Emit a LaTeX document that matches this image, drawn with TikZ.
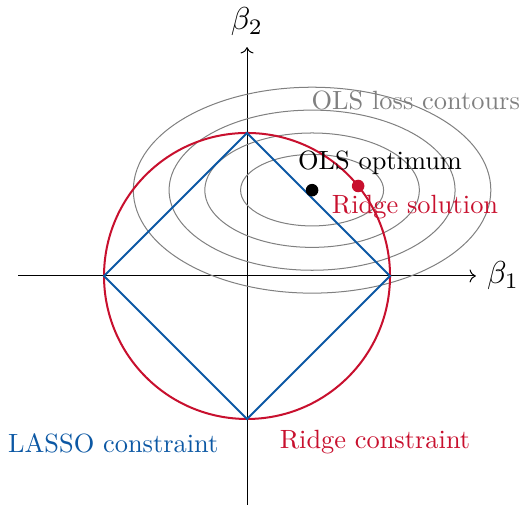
\documentclass[tikz,border=0pt]{standalone}
\usepackage{xcolor}
\usetikzlibrary{arrows.meta}
\definecolor{lassoblue}{RGB}{12,88,164}
\definecolor{ridgered}{RGB}{200,16,46}

\begin{document}
\begin{tikzpicture}[
    lbl/.style={scale=1.05},
    axlbl/.style={scale=1.26},
    axis/.style={->, black},
    contour/.style={gray, thin},
    lasso/.style={lassoblue, thick},
    ridge/.style={ridgered, thick},
    dot/.style={circle, fill, inner sep=0pt, minimum size=5pt}
]
\useasboundingbox (-3.455,-3.203) rectangle (3.874,3.86);

% Axes
\coordinate (O) at (0,0);
\draw[axis] (-3.2,0) -- (3.2,0) node[axlbl, right] (b1) {$\beta_1$};
\draw[axis] (0,-3.2) -- (0,3.2) node[axlbl, above] (b2) {$\beta_2$};

% OLS loss contours
\coordinate (ols) at (0.91,1.2);
\foreach \a/\b in {1/0.5, 1.5/0.8, 2/1.12, 2.5/1.44}
    \draw[contour] (ols) ellipse ({\a} and {\b});

% Constraint regions
\draw[ridge] (O) circle (2);
\draw[lasso] (2,0) -- (0,2) -- (-2,0) -- (0,-2) -- cycle;

% Points
\node[dot, black] (ols_pt) at (ols) {};
\node[dot, ridgered] (ridge_pt) at (39:2) {};

% Labels
\node[lbl, gray] (contour_lbl) at (2.36,2.45) {OLS loss contours};
\node[lbl] (ols_lbl) at (1.86,1.58) {OLS optimum};
\node[lbl, ridgered] (ridge_lbl) at (2.35,0.97) {Ridge solution};
\node[lbl, lassoblue] (lasso_lbl) at (-1.87,-2.34) {LASSO constraint};
\node[lbl, ridgered] (ridgec_lbl) at (1.79,-2.32) {Ridge constraint};

\end{tikzpicture}
\end{document}
